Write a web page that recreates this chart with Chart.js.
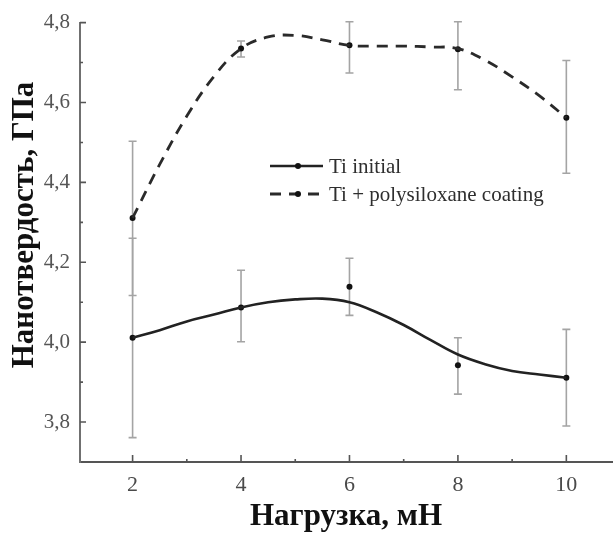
<!DOCTYPE html>
<html><head><meta charset="utf-8">
<script src="https://cdn.jsdelivr.net/npm/chart.js@4.4.0/dist/chart.umd.min.js"></script>
<style>html,body{margin:0;padding:0;background:#fff;}#wrap{width:616px;height:533px;position:relative;}</style>
</head><body><div id="wrap"><canvas id="c" width="616" height="533"></canvas></div>
<script>
// ---- data ----
const loads = [2, 4, 6, 8, 10];
const tiInitial     = [4.011, 4.087, 4.139, 3.942, 3.911];
const tiInitialLow  = [3.761, 4.001, 4.067, 3.870, 3.790];
const tiInitialHigh = [4.260, 4.180, 4.210, 4.011, 4.032];
const tiCoated      = [4.311, 4.735, 4.743, 4.733, 4.562];
const tiCoatedLow   = [4.117, 4.714, 4.674, 4.632, 4.423];
const tiCoatedHigh  = [4.503, 4.754, 4.802, 4.802, 4.705];
// fitted (smoothed) curves as drawn in the figure
const fitX       = [2, 2.5, 3, 3.5, 4, 4.5, 5, 5.5, 6, 6.5, 7, 7.5, 8, 8.5, 9, 9.5, 10];
const initialFit = [4.011, 4.030, 4.052, 4.069, 4.087, 4.100, 4.107, 4.109, 4.100, 4.075, 4.043, 4.005, 3.969, 3.945, 3.928, 3.919, 3.911];
const coatedFit  = [4.311, 4.445, 4.566, 4.665, 4.735, 4.764, 4.768, 4.757, 4.743, 4.741, 4.741, 4.739, 4.735, 4.706, 4.664, 4.617, 4.562];
const xTickValues = [2, 4, 6, 8, 10];
const xTickLabels = ['2', '4', '6', '8', '10'];
const xMinorTicks = [3, 5, 7, 9];
const yTickValues = [3.8, 4.0, 4.2, 4.4, 4.6, 4.8];
const yTickLabels = ['3,8', '4,0', '4,2', '4,4', '4,6', '4,8'];
const yMinorTicks = [3.9, 4.1, 4.3, 4.5, 4.7];
const xTitle = 'Нагрузка, мН';
const yTitle = 'Нанотвердость, ГПа';
const seriesNames = ['Ti initial', 'Ti + polysiloxane coating'];

const SERIF = "'Liberation Serif', 'Times New Roman', serif";
const pts = (xs, ys) => xs.map((x, i) => ({x: x, y: ys[i]}));

const errorBars = {
  id: 'errorBars',
  beforeDatasetsDraw(chart) {
    const ctx = chart.ctx, xs = chart.scales.x, ys = chart.scales.y;
    chart.data.datasets.forEach(ds => {
      if (!ds.errLow) return;
      ctx.save();
      ctx.strokeStyle = '#a4a4a4';
      ctx.lineWidth = 1.6;
      ds.data.forEach((p, i) => {
        const px = xs.getPixelForValue(p.x);
        const y1 = ys.getPixelForValue(ds.errLow[i]);
        const y2 = ys.getPixelForValue(ds.errHigh[i]);
        ctx.beginPath();
        ctx.moveTo(px, y1); ctx.lineTo(px, y2);
        ctx.moveTo(px - 4, y1); ctx.lineTo(px + 4, y1);
        ctx.moveTo(px - 4, y2); ctx.lineTo(px + 4, y2);
        ctx.stroke();
      });
      ctx.restore();
    });
  }
};

const innerTicks = {
  id: 'innerTicks',
  afterDraw(chart) {
    const ctx = chart.ctx, xs = chart.scales.x, ys = chart.scales.y, a = chart.chartArea;
    ctx.save();
    ctx.strokeStyle = '#555';
    ctx.lineWidth = 1.6;
    ctx.beginPath();
    xTickValues.forEach(v => { const p = xs.getPixelForValue(v); ctx.moveTo(p, a.bottom); ctx.lineTo(p, a.bottom - 7); });
    xMinorTicks.forEach(v => { const p = xs.getPixelForValue(v); ctx.moveTo(p, a.bottom); ctx.lineTo(p, a.bottom - 3); });
    yTickValues.forEach(v => { const p = ys.getPixelForValue(v); ctx.moveTo(a.left, p); ctx.lineTo(a.left + 6, p); });
    yMinorTicks.forEach(v => { const p = ys.getPixelForValue(v); ctx.moveTo(a.left, p); ctx.lineTo(a.left + 3, p); });
    ctx.stroke();
    ctx.restore();
  }
};

const yAxisTitle = {
  id: 'yAxisTitle',
  afterDraw(chart) {
    const ctx = chart.ctx;
    ctx.save();
    ctx.translate(25, 225);
    ctx.rotate(-Math.PI / 2);
    ctx.font = 'bold 31px ' + SERIF;
    ctx.fillStyle = '#111';
    ctx.textAlign = 'center';
    ctx.textBaseline = 'middle';
    ctx.fillText(yTitle, 0, 0);
    ctx.restore();
  }
};

const customLegend = {
  id: 'customLegend',
  afterDraw(chart) {
    const ctx = chart.ctx;
    const rows = [
      {ds: chart.data.datasets[0], pt: chart.data.datasets[2], y: 166},
      {ds: chart.data.datasets[1], pt: chart.data.datasets[3], y: 194}
    ];
    ctx.save();
    rows.forEach((r, i) => {
      ctx.strokeStyle = r.ds.borderColor;
      ctx.lineWidth = r.ds.borderWidth;
      ctx.setLineDash(r.ds.borderDash || []);
      ctx.beginPath(); ctx.moveTo(270, r.y); ctx.lineTo(323, r.y); ctx.stroke();
      ctx.setLineDash([]);
      ctx.fillStyle = r.pt.backgroundColor;
      ctx.beginPath(); ctx.arc(298, r.y, 3, 0, Math.PI * 2); ctx.fill();
      ctx.fillStyle = '#2e2e2e';
      ctx.font = '21px ' + SERIF;
      ctx.textBaseline = 'middle';
      ctx.textAlign = 'left';
      ctx.fillText(seriesNames[i], 329, r.y + 1);
    });
    ctx.restore();
  }
};

new Chart(document.getElementById('c'), {
  type: 'line',
  data: {
    datasets: [
      {label: seriesNames[0], data: pts(fitX, initialFit), borderColor: '#222', borderWidth: 2.6, pointRadius: 0, tension: 0.4, fill: false, clip: false},
      {label: seriesNames[1], data: pts(fitX, coatedFit), borderColor: '#2a2a2a', borderWidth: 2.8, borderDash: [11, 8], pointRadius: 0, tension: 0.4, fill: false, clip: false},
      {label: seriesNames[0] + ' data', data: pts(loads, tiInitial), showLine: false, pointRadius: 3, backgroundColor: '#111', borderWidth: 0, errLow: tiInitialLow, errHigh: tiInitialHigh, clip: false},
      {label: seriesNames[1] + ' data', data: pts(loads, tiCoated), showLine: false, pointRadius: 3, backgroundColor: '#111', borderWidth: 0, errLow: tiCoatedLow, errHigh: tiCoatedHigh, clip: false}
    ]
  },
  options: {
    responsive: false,
    animation: false,
    devicePixelRatio: 1,
    layout: {padding: {top: 19, left: 0, right: 0, bottom: 0}},
    plugins: {legend: {display: false}, tooltip: {enabled: false}},
    scales: {
      x: {
        type: 'linear', min: 1.03, max: 10.842,
        afterBuildTicks: s => { s.ticks = xTickValues.map(v => ({value: v})); },
        afterFit: s => { s.height = 71; },
        ticks: {callback: (v, i) => xTickLabels[i], font: {family: SERIF, size: 22}, color: '#4a4a4a', padding: 10, maxRotation: 0, autoSkip: false},
        grid: {color: 'rgba(0,0,0,0)', drawTicks: false},
        border: {display: true, color: '#555', width: 2},
        title: {display: true, text: xTitle, font: {family: SERIF, size: 31, weight: 'bold', lineHeight: 1}, color: '#111', padding: {top: 0, bottom: 1}}
      },
      y: {
        type: 'linear', min: 3.7, max: 4.8,
        afterBuildTicks: s => { s.ticks = yTickValues.map(v => ({value: v})); },
        afterFit: s => { s.width = 80; },
        ticks: {callback: (v, i) => yTickLabels[i], font: {family: SERIF, size: 21}, color: '#555', padding: 10, autoSkip: false},
        grid: {color: 'rgba(0,0,0,0)', drawTicks: false},
        border: {display: true, color: '#707070', width: 2},
        title: {display: false, text: yTitle}
      }
    }
  },
  plugins: [errorBars, innerTicks, yAxisTitle, customLegend]
});
</script>
</body></html>
